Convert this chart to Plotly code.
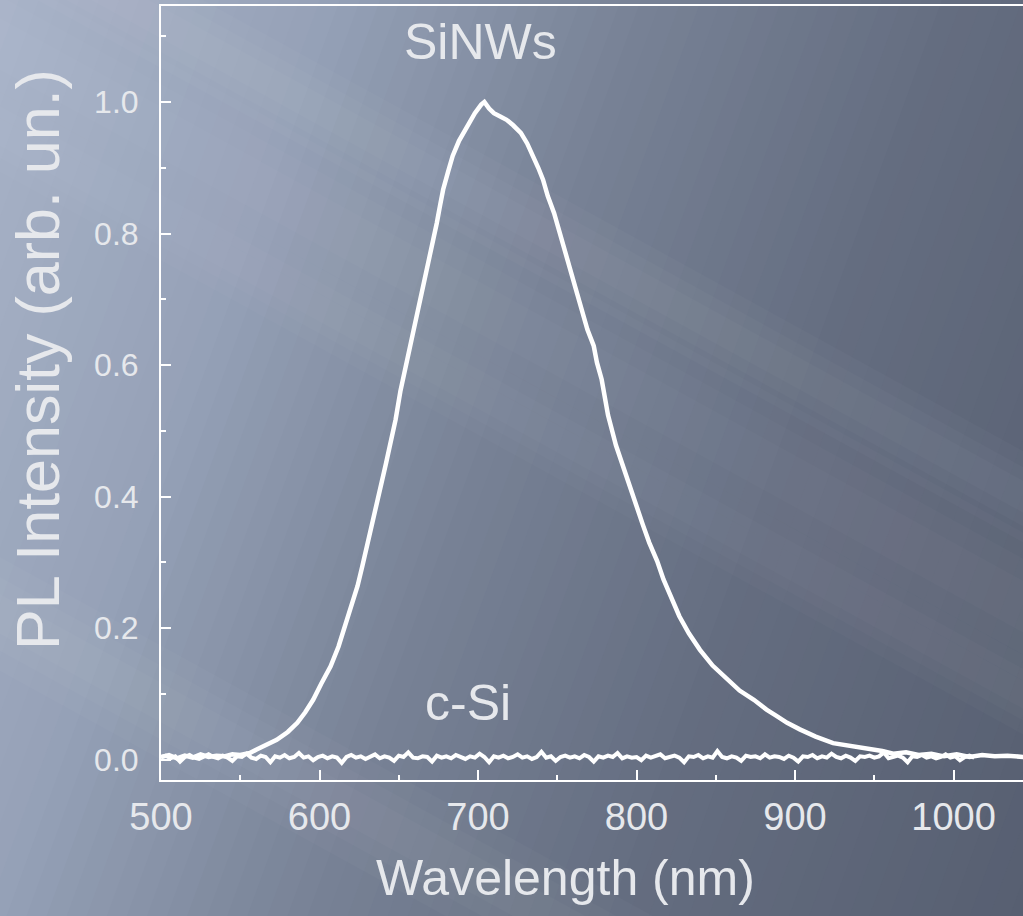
import math
import plotly.graph_objects as go

# ---------------- data ----------------
sinw_wl = [500, 505, 510, 515, 520, 525, 530, 535, 540, 545, 550, 556, 560, 566, 573,
           580, 586, 591, 596, 601, 607, 612, 616, 620, 624, 627, 630, 633, 636, 639,
           642, 645, 648, 651, 654, 657, 659, 662, 665, 667, 670, 672, 674, 676, 678,
           681, 684, 688, 693, 698, 702, 704, 707, 710, 714, 718, 722, 727, 731, 735,
           738, 741, 744, 748, 751, 754, 757, 760, 763, 766, 769, 773, 775, 778, 782,
           787, 792, 796, 800, 804, 808, 813, 817, 822, 827, 833, 840, 848, 857, 865,
           874, 882, 888, 895, 903, 913, 924, 935, 945, 955, 962, 970, 978, 986, 994,
           1002, 1010, 1018, 1026, 1034, 1044]
sinw_int = [0.004, 0.007, 0.002, 0.006, 0.003, 0.008, 0.004, 0.006, 0.005, 0.008, 0.007, 0.010, 0.015, 0.022, 0.030,
            0.042, 0.056, 0.072, 0.091, 0.115, 0.142, 0.172, 0.203, 0.233, 0.264, 0.294, 0.324, 0.357, 0.390, 0.420,
            0.451, 0.484, 0.517, 0.560, 0.593, 0.625, 0.649, 0.680, 0.710, 0.738, 0.765, 0.790, 0.816, 0.842, 0.867,
            0.893, 0.918, 0.941, 0.963, 0.983, 0.996, 1.000, 0.990, 0.983, 0.978, 0.973, 0.965, 0.953, 0.937, 0.918,
            0.900, 0.882, 0.857, 0.831, 0.806, 0.781, 0.756, 0.730, 0.705, 0.679, 0.654, 0.629, 0.604, 0.578, 0.524,
            0.478, 0.441, 0.413, 0.385, 0.357, 0.330, 0.302, 0.274, 0.246, 0.218, 0.192, 0.167, 0.143, 0.122, 0.105,
            0.091, 0.076, 0.067, 0.056, 0.046, 0.035, 0.025, 0.021, 0.018, 0.013, 0.009, 0.011, 0.007, 0.009, 0.005,
            0.008, 0.004, 0.007, 0.005, 0.006, 0.004]

csi_wl = list(range(500, 1044, 3))
csi_int = [0.004, 0.006, 0.002, 0.005, -0.003, 0.004, 0.007, 0.003, 0.001, 0.005,
           0.008, 0.004, 0.002, 0.006, 0.003, -0.002, 0.005, 0.004, 0.009, 0.003,
           0.001, 0.006, 0.004, -0.004, 0.005, 0.003, 0.007, 0.002, 0.004, 0.010,
           0.003, 0.005, -0.001, 0.004, 0.006, 0.002, 0.005, 0.003, -0.005, 0.004,
           0.007, 0.003, 0.005, 0.001, 0.004, 0.008, 0.002, 0.005, 0.003, -0.002,
           0.006, 0.004, 0.011, 0.003, 0.002, 0.005, 0.004, -0.003, 0.006, 0.003,
           0.005, 0.002, 0.007, 0.004, 0.001, 0.005, 0.003, 0.009, 0.004, -0.004,
           0.005, 0.003, 0.006, 0.002, 0.004, 0.008, 0.003, 0.005, 0.001, 0.004,
           0.012, 0.003, 0.005, -0.002, 0.004, 0.006, 0.003, 0.005, 0.002, 0.007,
           0.004, -0.003, 0.005, 0.003, 0.006, 0.004, 0.010, 0.002, 0.005, 0.003,
           0.004, -0.001, 0.006, 0.003, 0.005, 0.008, 0.002, 0.004, 0.006, 0.003,
           -0.004, 0.005, 0.004, 0.007, 0.002, 0.005, 0.003, 0.013, 0.004, 0.002,
           0.005, 0.003, -0.002, 0.006, 0.004, 0.005, 0.002, 0.008, 0.003, 0.005,
           0.004, 0.001, 0.006, 0.003, -0.003, 0.005, 0.004, 0.007, 0.002, 0.005,
           0.003, 0.009, 0.004, 0.002, 0.006, 0.003, -0.002, 0.005, 0.004, 0.006,
           0.003, 0.005, 0.011, 0.002, 0.004, 0.006, 0.003, -0.004, 0.005, 0.004,
           0.007, 0.003, 0.005, 0.002, 0.004, 0.008, 0.003, 0.005, -0.001, 0.004,
           0.006, 0.003]

x_ticks = [500, 600, 700, 800, 900, 1000]
y_ticks = [0.0, 0.2, 0.4, 0.6, 0.8, 1.0]
y_tick_text = ["0.0", "0.2", "0.4", "0.6", "0.8", "1.0"]

# ---------------- layout geometry ----------------
W, H = 1023, 916
L, R, T, B = 161, 0, 6, 136
PW, PH = W - L - R, H - T - B

def P(px, py):
    return (px - L) / PW, (H - B - py) / PH

def path(pts):
    s = ""
    for i, (a, b) in enumerate(pts):
        x, y = P(a, b)
        s += ("M" if i == 0 else "L") + f"{x:.5f},{y:.5f} "
    return s + "Z"

FONT = "Liberation Sans, Arial, sans-serif"
TXT = "#e6e8ec"

shapes = []
# background gradient (decoration)
ang = math.radians(20)
d = (math.cos(ang), math.sin(ang))
perp = (-d[1], d[0])
stops = [(0, (168, 178, 199)), (300, (150, 162, 184)), (600, (120, 130, 150)),
         (900, (100, 109, 128)), (1300, (86, 94, 112))]

def col(p):
    for (p0, c0), (p1, c1) in zip(stops[:-1], stops[1:]):
        if p <= p1:
            t = (p - p0) / (p1 - p0)
            return "rgb(%d,%d,%d)" % tuple(round(c0[k] + (c1[k] - c0[k]) * t) for k in range(3))
    return "rgb(%d,%d,%d)" % stops[-1][1]

N = 70
pmin, pmax = -20, 1300
step = (pmax - pmin) / N
for i in range(N):
    p0 = pmin + i * step
    p1 = p0 + step + 1.5
    Lg = 2500
    c0 = (p0 * d[0], p0 * d[1])
    c1 = (p1 * d[0], p1 * d[1])
    pts = [(c0[0] - Lg * perp[0], c0[1] - Lg * perp[1]), (c0[0] + Lg * perp[0], c0[1] + Lg * perp[1]),
           (c1[0] + Lg * perp[0], c1[1] + Lg * perp[1]), (c1[0] - Lg * perp[0], c1[1] - Lg * perp[1])]
    shapes.append(dict(type="path", xref="paper", yref="paper", path=path(pts),
                       fillcolor=col(p0 + step / 2), line=dict(width=0), layer="below"))

# soft light diagonal streaks (decoration)
sang = math.atan(0.55)
sd = (math.cos(sang), math.sin(sang))
sn = (-sd[1], sd[0])
for (cx, cy, w, op) in [(720, 330, 80, 0.022), (320, 790, 100, 0.022), (120, 110, 130, 0.02),
                        (960, 660, 70, 0.02)]:
    for f in (1.0, 0.65, 0.35):
        hw = w * f / 2
        Lg = 2000
        pts = [(cx - Lg * sd[0] + hw * sn[0], cy - Lg * sd[1] + hw * sn[1]),
               (cx + Lg * sd[0] + hw * sn[0], cy + Lg * sd[1] + hw * sn[1]),
               (cx + Lg * sd[0] - hw * sn[0], cy + Lg * sd[1] - hw * sn[1]),
               (cx - Lg * sd[0] - hw * sn[0], cy - Lg * sd[1] - hw * sn[1])]
        shapes.append(dict(type="path", xref="paper", yref="paper", path=path(pts),
                           fillcolor="white", opacity=op, line=dict(width=0), layer="below"))

fig = go.Figure()
fig.add_trace(go.Scatter(x=csi_wl, y=csi_int, mode="lines", name="c-Si",
                         line=dict(color="white", width=4), showlegend=False))
fig.add_trace(go.Scatter(x=sinw_wl, y=sinw_int, mode="lines", name="SiNWs",
                         line=dict(color="white", width=4.5), showlegend=False))

annotations = [
    dict(text="SiNWs", x=P(480, 42)[0], y=P(480, 42)[1], xref="paper", yref="paper",
         showarrow=False, font=dict(family=FONT, size=50, color=TXT), xanchor="center", yanchor="middle"),
    dict(text="c-Si", x=P(468, 703)[0], y=P(468, 703)[1], xref="paper", yref="paper",
         showarrow=False, font=dict(family=FONT, size=50, color=TXT), xanchor="center", yanchor="middle"),
    dict(text="Wavelength (nm)", x=P(565, 878)[0], y=P(565, 878)[1], xref="paper", yref="paper",
         showarrow=False, font=dict(family=FONT, size=50, color=TXT), xanchor="center", yanchor="middle"),
    dict(text="PL Intensity (arb. un.)", x=P(38, 360)[0], y=P(38, 360)[1], xref="paper", yref="paper",
         showarrow=False, textangle=-90, font=dict(family=FONT, size=61, color=TXT),
         xanchor="center", yanchor="middle"),
]

fig.update_layout(
    width=W, height=H,
    margin=dict(l=L, r=R, t=T, b=B, pad=0),
    paper_bgcolor="rgb(125,135,155)",
    plot_bgcolor="rgba(0,0,0,0)",
    shapes=shapes,
    annotations=annotations,
    showlegend=False,
    xaxis=dict(range=[500, 1043.8], tickvals=x_ticks, showgrid=False, zeroline=False,
               showline=True, linecolor="white", linewidth=2, mirror=True,
               ticks="inside", ticklen=10, tickwidth=2, tickcolor="white",
               minor=dict(dtick=50, ticks="inside", ticklen=5, tickwidth=2, tickcolor="white"),
               tickfont=dict(family=FONT, size=38, color=TXT), ticklabelstandoff=2),
    yaxis=dict(range=[-0.031, 1.146], tickvals=y_ticks, ticktext=y_tick_text, showgrid=False,
               zeroline=False, showline=True, linecolor="white", linewidth=2, mirror=False,
               ticks="inside", ticklen=10, tickwidth=2, tickcolor="white",
               minor=dict(dtick=0.1, ticks="inside", ticklen=5, tickwidth=2, tickcolor="white"),
               tickfont=dict(family=FONT, size=32, color=TXT), ticklabelstandoff=14),
)

fig.write_html("out.html", config={"displayModeBar": False},
               post_script="document.body.style.margin='0';document.body.style.overflow='hidden';")
